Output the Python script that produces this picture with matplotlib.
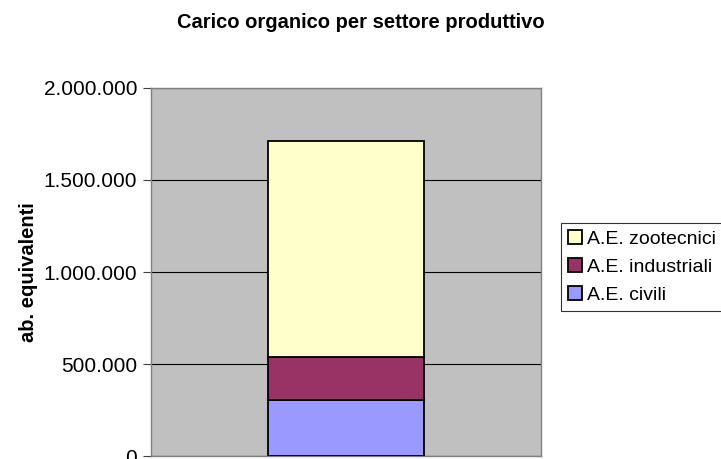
import matplotlib.pyplot as plt
from matplotlib.ticker import FuncFormatter

plt.rcParams['font.family'] = ['Liberation Sans', 'DejaVu Sans']

# dati
categorie = ['']
serie = ['A.E. civili', 'A.E. industriali', 'A.E. zootecnici']
valori = [[304000], [236000], [1172000]]
colori = ['#9999FF', '#993366', '#FFFFCC']

fig = plt.figure(figsize=(7.21, 4.59), dpi=100)
ax = fig.add_axes([0.2094, 0.0065, 0.541, 0.8018])
ax.set_facecolor('#C0C0C0')

bottom = [0] * len(categorie)
handles = []
for nome, v, c in zip(serie, valori, colori):
    b = ax.bar(range(len(categorie)), v, width=0.4, bottom=bottom, color=c,
               edgecolor='black', linewidth=1.3, label=nome, zorder=3)
    handles.append(b)
    bottom = [a + x for a, x in zip(bottom, v)]

ax.set_xlim(-0.5, 0.5)
ax.set_ylim(0, 2000000)
ax.set_yticks([0, 500000, 1000000, 1500000, 2000000])
ax.yaxis.set_major_formatter(FuncFormatter(lambda y, p: f'{int(y):,}'.replace(',', '.')))
ax.set_xticks([])
ax.grid(axis='y', color='black', linewidth=0.8, zorder=1)
ax.tick_params(axis='y', direction='out', length=6, width=0.8, color='#404040',
               labelsize=15, pad=4)
for s in ax.spines.values():
    s.set_color('#808080')
    s.set_linewidth(1)

ax.set_ylabel('ab. equivalenti', fontsize=14.5, fontweight='bold', labelpad=4)
fig.text(0.5, 0.952, 'Carico organico per settore produttivo', ha='center', va='center',
         fontsize=14.5, fontweight='bold')

leg = fig.legend(handles[::-1], serie[::-1], loc='upper left', bbox_to_anchor=(0.7775, 0.514),
                 fontsize=14, frameon=True, fancybox=False, handlelength=0.7,
                 handleheight=0.7, handletextpad=0.3, labelspacing=0.53,
                 borderpad=0.38, borderaxespad=0)
leg.get_frame().set_edgecolor('black')
leg.get_frame().set_linewidth(0.8)

fig.savefig('out.png', dpi=100)
